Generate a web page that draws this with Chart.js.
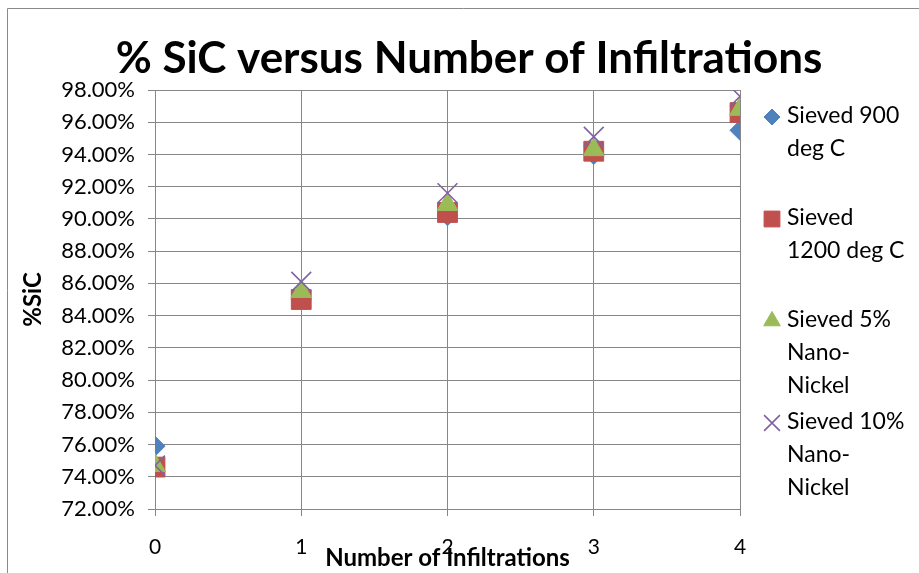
<!DOCTYPE html>
<html>
<head>
<meta charset="utf-8">
<title>% SiC versus Number of Infiltrations</title>
<script src="https://cdn.jsdelivr.net/npm/chart.js@4"></script>
<style>
  html, body { margin: 0; padding: 0; background: #fff; }
  #wrap { width: 919px; height: 573px; }
</style>
</head>
<body>
<div id="wrap"><canvas id="sicChart" width="919" height="573"></canvas></div>
<script>
/* ==========================================
   % SiC vs number of infiltrations (scatter)
========================================== */

const infiltrations = [0, 1, 2, 3, 4];
const sieved900 = [75.9, 85.0, 90.2, 94.0, 95.5];
const sieved1200 = [74.6, 85.0, 90.4, 94.2, 96.6];
const sievedNano5 = [74.7, 85.5, 90.9, 94.3, 96.8];
const sievedNano10 = [74.7, 86.1, 91.6, 95.1, 97.6];

const seriesNames = ["Sieved 900 deg C", "Sieved 1200 deg C", "Sieved 5% Nano-Nickel", "Sieved 10% Nano-Nickel"];
const legendLines = [
  ["Sieved 900", "deg C"],
  ["Sieved", "1200 deg C"],
  ["Sieved 5%", "Nano-", "Nickel"],
  ["Sieved 10%", "Nano-", "Nickel"],
];
const chartTitle = "% SiC versus Number of Infiltrations";
const yMin = 72;
const yMax = 98;
const yStep = 2;

const FONT = "Lato, 'Open Sans', sans-serif";
const GRID = "#878787";

const toPoints = (ys) => infiltrations.map((x, i) => ({ x, y: ys[i] }));

function series(label, ys, color, style, radius, order) {
  return {
    label,
    data: toPoints(ys),
    pointStyle: style,
    pointRadius: radius,
    pointHoverRadius: radius,
    pointBackgroundColor: color,
    pointBorderColor: color,
    pointBorderWidth: style === "crossRot" ? 1.6 : 1,
    showLine: false,
    order,
  };
}

// frame round the chart (only left and top edges fall inside the canvas) + big title
const framePlugin = {
  id: "frame",
  beforeDraw(chart) {
    const ctx = chart.ctx;
    ctx.save();
    ctx.strokeStyle = "#8a8a8a";
    ctx.lineWidth = 1;
    ctx.beginPath();
    ctx.moveTo(7.5, chart.height);
    ctx.lineTo(7.5, 8.5);
    ctx.lineTo(chart.width, 8.5);
    ctx.stroke();

    ctx.fillStyle = "#000";
    ctx.font = `bold 44px ${FONT}`;
    ctx.textAlign = "center";
    ctx.textBaseline = "middle";
    ctx.fillText(chartTitle, 469, 59);
    ctx.restore();
  },
};

// right-hand legend with wrapped entries
const sideLegend = {
  id: "sideLegend",
  afterDraw(chart) {
    const ctx = chart.ctx;
    const area = chart.chartArea;
    const lineH = 33;
    const slot = lineH * 3 + 3;
    const markX = area.right + 32;
    const textX = area.right + 47;
    let y = 116;
    ctx.save();
    ctx.font = `23px ${FONT}`;
    ctx.textBaseline = "middle";
    chart.data.datasets.forEach((ds, i) => {
      const style = {
        pointStyle: ds.pointStyle,
        rotation: 0,
        radius: ds.pointRadius * 0.8,
        borderWidth: ds.pointBorderWidth,
      };
      ctx.fillStyle = ds.pointBackgroundColor;
      ctx.strokeStyle = ds.pointBorderColor;
      ctx.lineWidth = ds.pointBorderWidth;
      Chart.helpers.drawPoint(ctx, style, markX, y + 1);
      ctx.fillStyle = "#000";
      legendLines[i].forEach((txt, k) => ctx.fillText(txt, textX, y + k * lineH));
      y += slot;
    });
    ctx.restore();
  },
};

new Chart(document.getElementById("sicChart"), {
  type: "scatter",
  data: {
    datasets: [
      series(seriesNames[0], sieved900, "#4f81bd", "rectRot", 10, 4),
      series(seriesNames[1], sieved1200, "#c0504d", "rect", 14, 3),
      series(seriesNames[2], sievedNano5, "#9bbb59", "triangle", 12, 2),
      series(seriesNames[3], sievedNano10, "#8064a2", "crossRot", 14, 1),
    ],
  },
  options: {
    responsive: false,
    animation: false,
    layout: { padding: { left: 0, right: 179, top: 90, bottom: 0 } },
    plugins: {
      legend: { display: false },
      tooltip: { enabled: false },
      title: { display: false },
    },
    scales: {
      x: {
        type: "linear",
        min: 0,
        max: 4,
        ticks: { stepSize: 1, color: "#000", font: { family: FONT, size: 21 }, padding: 19 },
        grid: { color: GRID, tickLength: 7, tickColor: GRID },
        border: { color: GRID },
        title: {
          display: true,
          text: "Number of Infiltrations",
          color: "#000",
          font: { family: FONT, size: 24, weight: "bold" },
          padding: { top: 0, bottom: 0 },
        },
        afterFit: (scale) => { scale.height = 64; },
      },
      y: {
        min: yMin,
        max: yMax,
        ticks: {
          stepSize: yStep,
          color: "#000",
          font: { family: FONT, size: 22 },
          padding: 13,
          callback: (v) => `${v.toFixed(2)}%`,
        },
        grid: { color: GRID, tickLength: 7, tickColor: GRID },
        border: { color: GRID },
        title: {
          display: true,
          text: "%SiC",
          color: "#000",
          font: { family: FONT, size: 24, weight: "bold" },
          padding: { top: 19, bottom: 0 },
        },
        afterFit: (scale) => { scale.width = 155; },
      },
    },
  },
  plugins: [framePlugin, sideLegend],
});
</script>
</body>
</html>
